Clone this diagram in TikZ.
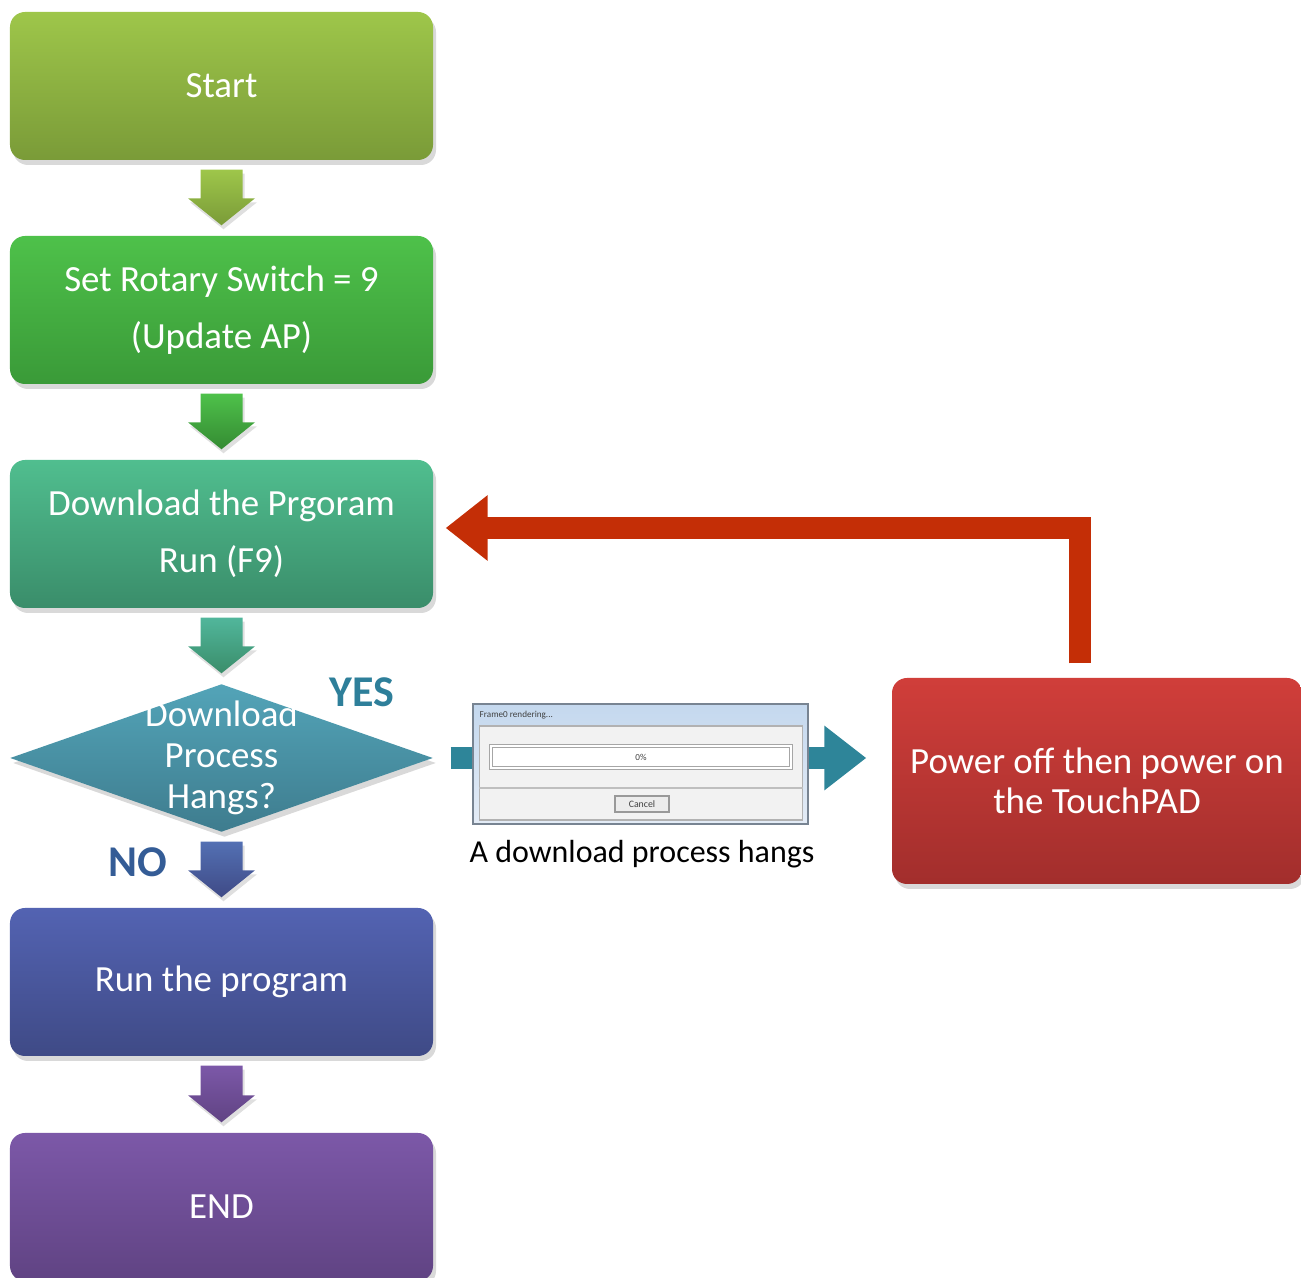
\documentclass[tikz,border=0pt]{standalone}
\usepackage{fontspec}
\setmainfont{Carlito}
\usetikzlibrary{arrows.meta,calc,positioning,shapes.geometric,shadows}
\definecolor{startA}{RGB}{158,198,74}
\definecolor{startB}{RGB}{122,155,56}
\definecolor{setA}{RGB}{78,193,74}
\definecolor{setB}{RGB}{58,154,56}
\definecolor{dlA}{RGB}{80,190,143}
\definecolor{dlB}{RGB}{58,141,106}
\definecolor{hangA}{RGB}{83,164,184}
\definecolor{hangB}{RGB}{62,124,142}
\definecolor{runA}{RGB}{83,99,178}
\definecolor{runB}{RGB}{63,74,134}
\definecolor{endA}{RGB}{124,88,168}
\definecolor{endB}{RGB}{96,67,131}
\definecolor{powA}{RGB}{208,62,58}
\definecolor{powB}{RGB}{162,46,44}
\definecolor{loopred}{RGB}{196,46,6}
\definecolor{sideteal}{RGB}{46,133,153}
\definecolor{yescol}{RGB}{46,127,154}
\definecolor{nocol}{RGB}{52,92,150}
\definecolor{titleA}{RGB}{196,216,238}
\definecolor{titleB}{RGB}{228,236,246}
\definecolor{frameline}{RGB}{120,132,146}

\tikzset{
  box/.style={rectangle, rounded corners=0.15cm, minimum width=4.23cm, minimum height=1.48cm,
    inner sep=0pt, align=center, text=white, font=\fontsize{10.5}{16.2}\selectfont,
    drop shadow={shadow xshift=0.03cm, shadow yshift=-0.05cm, opacity=0.3}},
  decision/.style={diamond, minimum width=4.23cm, minimum height=1.48cm, inner sep=0pt,
    drop shadow={shadow xshift=0.03cm, shadow yshift=-0.05cm, opacity=0.3}},
  yesno/.style={font=\fontsize{12.5}{14}\selectfont\bfseries},
  sidearrow/.style={sideteal, line width=0.22cm, -{Triangle[length=0.42cm, width=0.62cm]}},
  loop/.style={loopred, line width=0.22cm, -{Triangle[length=0.42cm, width=0.63cm]}},
  tinytext/.style={inner sep=0pt, text=black!75, font=\fontsize{2.6}{3}\selectfont},
}

% big block arrow between two boxes
\newcommand{\flowarrow}[4]{%
  \shade[top color=#3, bottom color=#4,
    drop shadow={shadow xshift=0.02cm, shadow yshift=-0.04cm, opacity=0.25}]
    ($(#1.south)+(-0.21,-0.09)$) -- ($(#1.south)+(0.21,-0.09)$)
    -- ($(#2.north)+(0.21,0.37)$) -- ($(#2.north)+(0.335,0.37)$)
    -- ($(#2.north)+(0,0.10)$) -- ($(#2.north)+(-0.335,0.37)$)
    -- ($(#2.north)+(-0.21,0.37)$) -- cycle;
}

\begin{document}
\begin{tikzpicture}
\useasboundingbox (0,0) rectangle (13.01,12.78);

% Main column
\node[box, top color=startA, bottom color=startB] (start) at (2.215,11.92) {Start};
\node[box, top color=setA, bottom color=setB] (rotary) at (2.215,9.68) {Set Rotary Switch = 9\\(Update AP)};
\node[box, top color=dlA, bottom color=dlB] (dl) at (2.215,7.44) {Download the Prgoram\\Run (F9)};
\node[decision, top color=hangA, bottom color=hangB] (hang) at (2.215,5.20) {};
\node[text=white, align=center, font=\fontsize{10.5}{11.7}\selectfont] (hangtxt) at (hang) {Download\\Process\\Hangs?};
\node[box, top color=runA, bottom color=runB] (run) at (2.215,2.96) {Run the program};
\node[box, top color=endA, bottom color=endB] (end) at (2.215,0.71) {END};

% Arrows down the column
\flowarrow{start}{rotary}{startA}{startB}
\flowarrow{rotary}{dl}{setA}{setB!90!black}
\flowarrow{dl}{hang}{dlA!70!hangA}{dlB}
\flowarrow{hang}{run}{runA!80!hangA}{runB}
\flowarrow{run}{end}{endA}{endB}

% Labels
\node[yesno, text=yescol] (yes) at (3.62,5.86) {YES};
\node[yesno, text=nocol] (no) at (1.38,4.16) {NO};

% Screenshot of the hanging dialog
\node[draw=frameline, top color=titleA, bottom color=titleB, minimum width=3.35cm,
  minimum height=1.20cm, inner sep=0pt] (shot) at (6.405,5.14) {};
\node[tinytext, anchor=west] (shottitle) at (4.79,5.63) {Frame0 rendering...};
\node[draw=gray!60, fill=gray!10, minimum width=3.23cm, minimum height=0.94cm, inner sep=0pt] (panel) at (6.41,5.05) {};
\node[draw=gray!70, double=white, double distance=0.4pt, fill=white, minimum width=3.0cm,
  minimum height=0.22cm, tinytext] (bar) at (6.41,5.21) {0\%};
\draw[gray!50] ($(panel.west)+(0,-0.15)$) coordinate (sepl) -- (sepl -| panel.east);
\node[draw=gray!80, fill=gray!15, minimum width=0.54cm, minimum height=0.16cm,
  tinytext, font=\fontsize{2.8}{3}\selectfont] (cancel) at (6.42,4.74) {Cancel};
\node[font=\fontsize{9.1}{10}\selectfont] (caption) at (6.42,4.24) {A download process hangs};

% Power cycle box
\node[box, top color=powA, bottom color=powB, minimum width=4.1cm, minimum height=2.06cm,
  font=\fontsize{10.5}{11.5}\selectfont] (power) at (10.97,4.97) {Power off then power on\\the TouchPAD};

% Side arrows
\draw[sideteal, line width=0.22cm] ([xshift=0.17cm]hang.east) -- (hang.east -| shot.west);
\draw[sidearrow, shorten >=0.25cm] (shot.east |- hang.east) -- (hang.east -| power.west);

% Loop back to download
\draw[loop] ([xshift=-0.17cm, yshift=0.14cm]power.north) |- ([xshift=0.12cm, yshift=0.06cm]dl.east);
\end{tikzpicture}
\end{document}
